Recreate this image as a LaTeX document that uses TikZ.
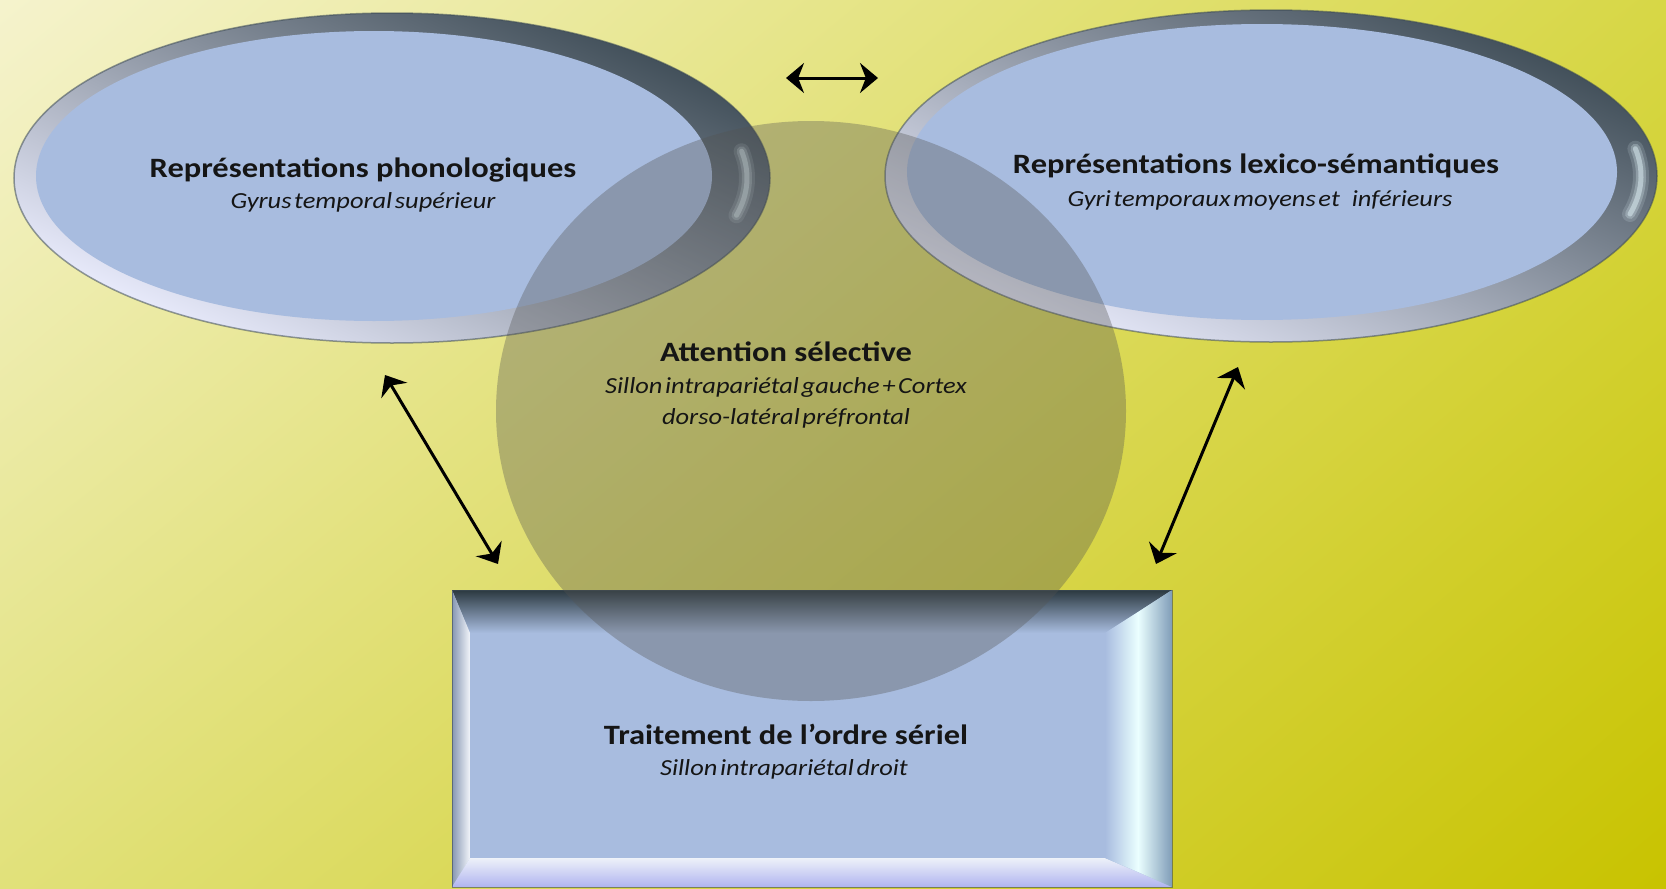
\documentclass[tikz,border=0pt]{standalone}
\usepackage{fontspec}
\setmainfont{Carlito}
\usetikzlibrary{arrows.meta,shadings}
\definecolor{bgTL}{HTML}{F5F3CD}
\definecolor{bgTR}{HTML}{D7D746}
\definecolor{bgBL}{HTML}{E1E17A}
\definecolor{bgBR}{HTML}{C8C300}
\definecolor{rimdark}{HTML}{3E4C56}
\definecolor{rimmid}{HTML}{95A5BA}
\definecolor{rimlight}{HTML}{ECEEFF}
\definecolor{face}{HTML}{A8BCDF}
\definecolor{txt}{HTML}{151515}
\definecolor{circ}{HTML}{535351}
\definecolor{steel}{HTML}{7F9CB8}
\definecolor{bevdark}{HTML}{2B3940}
\definecolor{lavender}{HTML}{B0B4F0}
\definecolor{glint}{HTML}{E8FAFF}
\newcommand\wideT[1]{\scalebox{1.16}[1]{#1}}
\newcommand\wideS[1]{\scalebox{1.15}[1]{\spaceskip=0.1em\relax #1}}
\tikzset{
  ttl/.style={font=\fontsize{28}{32}\selectfont\bfseries, text=txt, inner sep=0pt},
  sub/.style={font=\fontsize{23}{28}\selectfont\itshape, text=txt, inner sep=0pt},
  biarrow/.style={line width=3pt, {Stealth[length=18pt,width=30pt]}-{Stealth[length=18pt,width=30pt]}},
  rim/.style={top color=rimdark, middle color=rimmid, bottom color=rimlight, shading angle=-25},
  outline/.style={rimdark, line width=1.5pt, opacity=.55},
}
\begin{document}
\begin{tikzpicture}[x=1pt,y=-1pt]
\useasboundingbox (0,0) rectangle (1666,889);
% background
\shade[upper left=bgTL, upper right=bgTR, lower left=bgBL, lower right=bgBR] (0,0) rectangle (1666,889);

% left ellipse
\shade[rim] (392,178) ellipse [x radius=378pt, y radius=165pt];
\draw[outline] (392,178) ellipse [x radius=378pt, y radius=165pt];
\foreach \w/\o in {16/.15, 10/.25, 5/.45}
  \draw[glint, line width=\w pt, opacity=\o, line cap=round] (392,178) ++(10:355pt and 154pt) arc [start angle=10, end angle=-14, x radius=355pt, y radius=154pt];
\fill[face] (374,176) ellipse [x radius=338pt, y radius=145pt];
\node (phon) at (392,178) {};

% right ellipse
\shade[rim] (1271,176) ellipse [x radius=386pt, y radius=166pt];
\draw[outline] (1271,176) ellipse [x radius=386pt, y radius=166pt];
\foreach \w/\o in {16/.15, 10/.25, 5/.45}
  \draw[glint, line width=\w pt, opacity=\o, line cap=round] (1271,176) ++(10:370pt and 157pt) arc [start angle=10, end angle=-14, x radius=370pt, y radius=157pt];
\fill[face] (1262,172) ellipse [x radius=355pt, y radius=148pt];
\node (lex) at (1271,176) {};

% rectangle with bevel
\fill[face] (452,590) rectangle (1172,887);
\shade[top color=bevdark, bottom color=face] (452,590) -- (1172,590) -- (1105,633) -- (470,633) -- cycle;
\shade[left color=face!80!black, right color=white!85!face] (452,590) -- (470,633) -- (470,858) -- (452,887) -- cycle;
\shade[top color=white!80!face, bottom color=lavender] (452,887) -- (470,858) -- (1105,858) -- (1172,887) -- cycle;
\shade[left color=face, right color=white!92!cyan] (1105,633) -- (1138,612) -- (1138,872) -- (1105,858) -- cycle;
\shade[left color=white!92!cyan, right color=steel] (1138,612) -- (1172,590) -- (1172,887) -- (1138,872) -- cycle;
\draw[rimdark, line width=1pt, opacity=.6] (452,590) rectangle (1172,887);
\node (serial) at (812,738) {};

% attention circle
\fill[circ, fill opacity=.35] (811,411) ellipse [x radius=315pt, y radius=290pt];
\node (att) at (811,411) {};

% texts
\node[ttl] (t1) at (363,170) {\wideT{Représentations phonologiques}};
\node[sub] (s1) at (363,202) {\wideS{Gyrus temporal supérieur}};
\node[ttl] (t2) at (1256,166) {\wideT{Représentations lexico-sémantiques}};
\node[sub] (s2) at (1260,200) {\wideS{Gyri temporaux moyens et\hspace{0.45em}inférieurs}};
\node[ttl] (t3) at (786,352) {\wideT{Attention sélective}};
\node[sub] (s3) at (786,387) {\wideS{Sillon intrapariétal gauche + Cortex}};
\node[sub] (s3b) at (786,418) {\wideS{dorso-latéral préfrontal}};
\node[ttl] (t4) at (786,734) {\wideT{Traitement de l’ordre sériel}};
\node[sub] (s4) at (784,769) {\wideS{Sillon intrapariétal droit}};

% arrows
\coordinate (a1) at (786,78);
\coordinate (a2) at (878,78);
\coordinate (b1) at (385,375);
\coordinate (b2) at (498,564);
\coordinate (c1) at (1238,367);
\coordinate (c2) at (1156,564);
\draw[biarrow] (a1) -- (a2);
\draw[biarrow] (b1) -- (b2);
\draw[biarrow] (c1) -- (c2);
\end{tikzpicture}
\end{document}
